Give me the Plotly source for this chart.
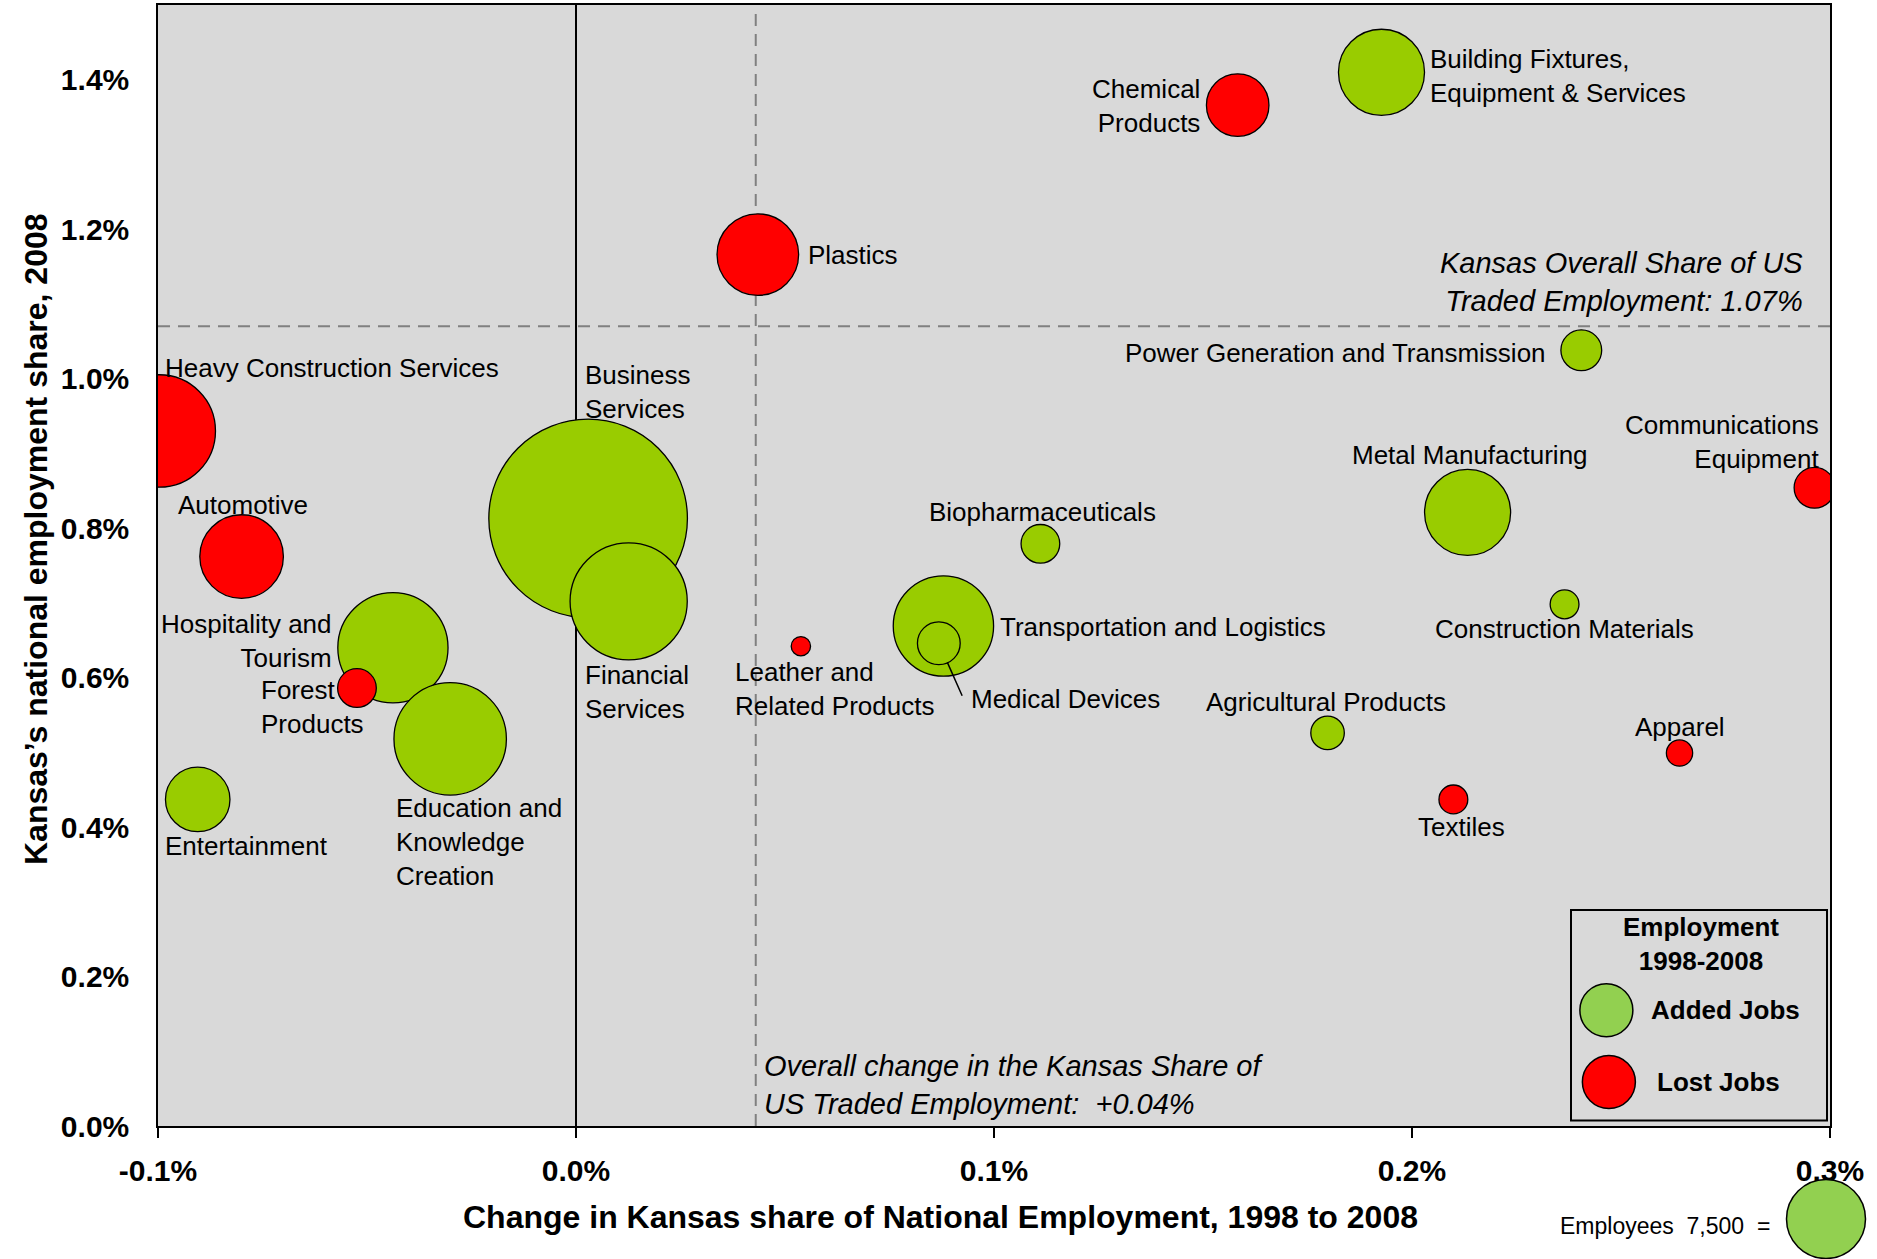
import math
import plotly.graph_objects as go

# ---------------- data ----------------
clusters = [
    "Heavy Construction Services", "Automotive", "Hospitality and Tourism",
    "Education and Knowledge Creation", "Forest Products", "Entertainment",
    "Business Services", "Financial Services", "Plastics", "Chemical Products",
    "Building Fixtures, Equipment & Services", "Power Generation and Transmission",
    "Communications Equipment", "Metal Manufacturing", "Biopharmaceuticals",
    "Transportation and Logistics", "Medical Devices", "Leather and Related Products",
    "Construction Materials", "Agricultural Products", "Apparel", "Textiles",
]
# change in Kansas share of national employment 1998-2008 (percentage points)
share_change = [-0.0997, -0.080, -0.0438, -0.0301, -0.0524, -0.0905,
                0.0029, 0.0126, 0.0435, 0.1583, 0.1927, 0.2405,
                0.2963, 0.2133, 0.1111, 0.0879, 0.0868, 0.0538,
                0.2365, 0.1798, 0.2640, 0.2099]
# Kansas national employment share 2008 (%)
share_2008 = [0.930, 0.762, 0.640, 0.518, 0.586, 0.437,
              0.813, 0.702, 1.166, 1.366, 1.410, 1.038,
              0.854, 0.821, 0.779, 0.669, 0.646, 0.642,
              0.698, 0.526, 0.499, 0.437]
employees = [15200, 8400, 14600, 15200, 1800, 5000,
             47400, 16500, 8000, 4700, 8900, 2000,
             2000, 8900, 1800, 12100, 2200, 450,
             1000, 1350, 830, 1000]
job_change = ["Lost", "Lost", "Added", "Added", "Lost", "Added",
              "Added", "Added", "Lost", "Lost", "Added", "Added",
              "Lost", "Added", "Added", "Added", "Added", "Lost",
              "Added", "Added", "Lost", "Lost"]

overall_share = 1.07      # Kansas overall share of US traded employment (%)
overall_change = 0.043    # overall change in Kansas share (pp)
key_employees = 7500

x_tickvals = [-0.1, 0.0, 0.1, 0.2, 0.3]
x_ticktext = ["-0.1%", "0.0%", "0.1%", "0.2%", "0.3%"]
y_tickvals = [0.0, 0.2, 0.4, 0.6, 0.8, 1.0, 1.2, 1.4]
y_ticktext = ["0.0%", "0.2%", "0.4%", "0.6%", "0.8%", "1.0%", "1.2%", "1.4%"]

# ---------------- styling ----------------
W, H = 1877, 1259
L, R, T, B = 158, 47, 5, 133
PW, PH = W - L - R, H - T - B
FONT = "Liberation Sans, Arial, sans-serif"
S = 1877 / 1568.0  # reference-measure scale

colors = {"Added": "#99CC00", "Lost": "#FF0000"}
key_radius_px = 39.5
sizeref = key_employees / (2 * key_radius_px ** 2)


def paper(xp, yp):
    return (xp - L) / PW, (H - B - yp) / PH


# label layout: text, xanchor, dx, dy (measured offsets, reference px)
label_layout = {
    "Heavy Construction Services": ("Heavy Construction Services", "left", 3, -53),
    "Automotive": ("Automotive", "center", 1, -43),
    "Hospitality and Tourism": ("Hospitality and<br>Tourism", "right", -49, -6),
    "Education and Knowledge Creation": ("Education and<br>Knowledge<br>Creation", "left", -47, 86),
    "Forest Products": ("Forest<br>Products", "left", -82, 16),
    "Entertainment": ("Entertainment", "left", -29, 39),
    "Business Services": ("Business<br>Services", "left", -4, -106),
    "Financial Services": ("Financial<br>Services", "left", -38, 76),
    "Plastics": ("Plastics", "left", 40, 0),
    "Chemical Products": ("Chemical<br>Products", "right", -30, 1),
    "Building Fixtures, Equipment & Services": ("Building Fixtures,<br>Equipment & Services", "left", 39, 3),
    "Power Generation and Transmission": ("Power Generation and Transmission", "right", -28, 2),
    "Communications Equipment": ("Communications<br>Equipment", "right", 5, -38.5),
    "Metal Manufacturing": ("Metal Manufacturing", "center", 2, -48),
    "Biopharmaceuticals": ("Biopharmaceuticals", "center", 2, -27),
    "Transportation and Logistics": ("Transportation and Logistics", "left", 46, 1),
    "Medical Devices": ("Medical Devices", "left", 25, 47),
    "Leather and Related Products": ("Leather and<br>Related Products", "left", -57, 35.5),
    "Construction Materials": ("Construction Materials", "center", 0, 21),
    "Agricultural Products": ("Agricultural Products", "center", -1, -26),
    "Apparel": ("Apparel", "center", 0, -22),
    "Textiles": ("Textiles", "center", 7, 23),
}

fig = go.Figure()

fig.add_trace(go.Scatter(
    x=share_change, y=share_2008, mode="markers",
    marker=dict(size=employees, sizemode="area", sizeref=sizeref,
                color=[colors[c] for c in job_change],
                line=dict(color="black", width=1.3), opacity=1),
    text=clusters, hovertemplate="%{text}<extra></extra>",
    cliponaxis=True, showlegend=False,
))

# legend symbols
fig.add_trace(go.Scatter(
    x=[0.2465, 0.2471], y=[0.1548, 0.0589], mode="markers",
    marker=dict(size=53, color=["#92D050", "#FF0000"], line=dict(color="black", width=1.5)),
    cliponaxis=False, showlegend=False, hoverinfo="skip",
))

annotations = []
for name, xv, yv in zip(clusters, share_change, share_2008):
    txt, xa, dx, dy = label_layout[name]
    annotations.append(dict(
        x=xv, y=yv, xref="x", yref="y", text=txt, showarrow=False,
        xanchor=xa, yanchor="middle", align=xa if xa != "center" else "center",
        xshift=dx * S, yshift=-dy * S,
        font=dict(family=FONT, size=26, color="black"),
    ))

# leader line for Medical Devices
mi = clusters.index("Medical Devices")
annotations.append(dict(
    x=share_change[mi], y=share_2008[mi], xref="x", yref="y", text="",
    showarrow=True, arrowhead=0, arrowwidth=1.5, arrowcolor="black",
    ax=24, ay=54, standoff=21,
))

# reference-line annotations
px_, py_ = paper(1805, 282)
annotations.append(dict(
    x=px_, y=py_, xref="paper", yref="paper", showarrow=False,
    text="Kansas Overall Share of US<br>Traded Employment: 1.07%",
    xanchor="right", yanchor="middle", align="right",
    font=dict(family=FONT, size=29, color="black", style="italic"),
))
px_, py_ = paper(762, 1085)
annotations.append(dict(
    x=px_, y=py_, xref="paper", yref="paper", showarrow=False,
    text="Overall change in the Kansas Share of<br>US Traded Employment:  +0.04%",
    xanchor="left", yanchor="middle", align="left",
    font=dict(family=FONT, size=29, color="black", style="italic"),
))

# axis titles
px_, py_ = paper(940, 1217)
annotations.append(dict(
    x=px_, y=py_, xref="paper", yref="paper", showarrow=False,
    text="Change in Kansas share of National Employment, 1998 to 2008",
    xanchor="center", yanchor="middle",
    font=dict(family=FONT, size=32, color="black", weight="bold"),
))
px_, py_ = paper(36, 539)
annotations.append(dict(
    x=px_, y=py_, xref="paper", yref="paper", showarrow=False,
    text="Kansas\u2019s national employment share, 2008", textangle=-90,
    xanchor="center", yanchor="middle",
    font=dict(family=FONT, size=32, color="black", weight="bold"),
))

# legend texts
px_, py_ = paper(1701, 944)
annotations.append(dict(
    x=px_, y=py_, xref="paper", yref="paper", showarrow=False,
    text="Employment<br>1998-2008", xanchor="center", yanchor="middle", align="center",
    font=dict(family=FONT, size=26, color="black", weight="bold"),
))
px_, py_ = paper(1725, 1010)
annotations.append(dict(
    x=px_, y=py_, xref="paper", yref="paper", showarrow=False,
    text="Added Jobs", xanchor="center", yanchor="middle",
    font=dict(family=FONT, size=26, color="black", weight="bold"),
))
px_, py_ = paper(1718, 1082)
annotations.append(dict(
    x=px_, y=py_, xref="paper", yref="paper", showarrow=False,
    text="Lost Jobs", xanchor="center", yanchor="middle",
    font=dict(family=FONT, size=26, color="black", weight="bold"),
))
px_, py_ = paper(1772, 1226)
annotations.append(dict(
    x=px_, y=py_, xref="paper", yref="paper", showarrow=False,
    text="Employees\u00a0\u00a07,500\u00a0\u00a0=", xanchor="right", yanchor="middle",
    font=dict(family=FONT, size=23, color="black"),
))

# bubble-size key: same area scale as the data markers
key_r = math.sqrt(key_employees / (2 * sizeref))
kx, ky = paper(1826, 1219)

lx0, ly0 = paper(1571, 1120.5)
lx1, ly1 = paper(1827, 910)
shapes = [
    dict(type="line", xref="x", yref="paper", x0=overall_change, x1=overall_change,
         y0=0, y1=0.992, line=dict(color="#808080", width=2, dash="12px,8px"), layer="below"),
    dict(type="line", xref="paper", yref="y", x0=0, x1=1, y0=overall_share, y1=overall_share,
         line=dict(color="#808080", width=2, dash="12px,8px"), layer="below"),
    dict(type="rect", xref="paper", yref="paper", x0=lx0, x1=lx1, y0=ly0, y1=ly1,
         line=dict(color="black", width=2), fillcolor="#D9D9D9", layer="below"),
    dict(type="circle", xref="paper", yref="paper", xsizemode="pixel", ysizemode="pixel",
         xanchor=kx, yanchor=ky, x0=-key_r, x1=key_r, y0=-key_r, y1=key_r,
         line=dict(color="black", width=1.5), fillcolor="#92D050", layer="above"),
]

fig.update_layout(
    width=W, height=H,
    margin=dict(l=L, r=R, t=T, b=B, pad=0),
    paper_bgcolor="white", plot_bgcolor="#D9D9D9",
    font=dict(family=FONT, color="black"),
    annotations=annotations, shapes=shapes,
    showlegend=False,
)
fig.update_xaxes(
    range=[-0.1, 0.3], tickvals=x_tickvals, ticktext=x_ticktext,
    showgrid=False, zeroline=True, zerolinecolor="black", zerolinewidth=1.5,
    showline=True, linecolor="black", linewidth=2, mirror=True,
    ticks="outside", ticklen=10, tickcolor="black", tickwidth=1.5,
    tickfont=dict(family=FONT, size=30, color="black", weight="bold"),
    ticklabelstandoff=7, automargin=False,
)
fig.update_yaxes(
    range=[0, 1.5], tickvals=y_tickvals, ticktext=y_ticktext,
    showgrid=False, zeroline=False,
    showline=True, linecolor="black", linewidth=1.5, mirror=True,
    ticks="", tickfont=dict(family=FONT, size=30, color="black", weight="bold"),
    ticklabelstandoff=21, automargin=False,
)

fig.write_html(
    "out.html",
    config={"displayModeBar": False},
    post_script="document.body.style.margin='0px';document.body.style.overflow='hidden';",
)
